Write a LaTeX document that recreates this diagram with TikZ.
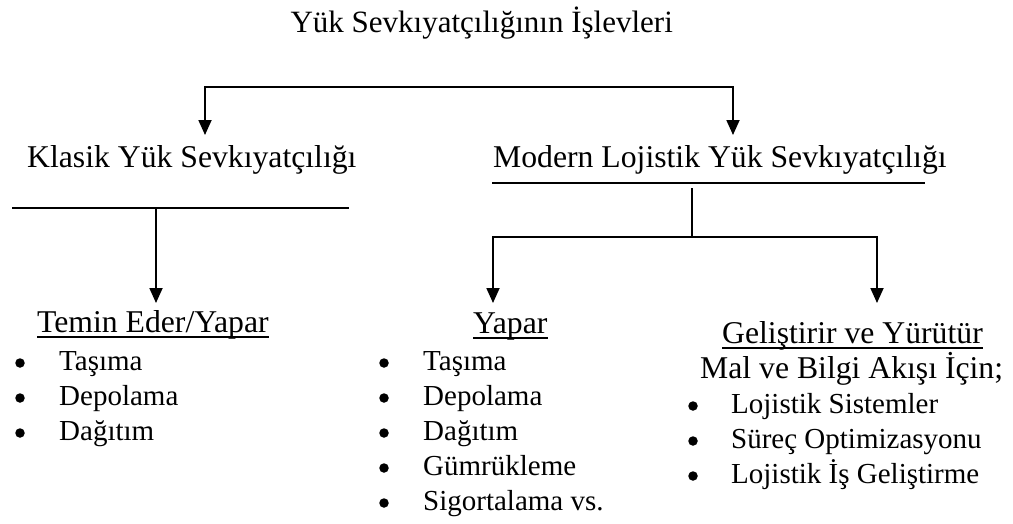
\documentclass[tikz,border=0pt]{standalone}
\usepackage{fontspec}
\setmainfont{Liberation Serif}
\usetikzlibrary{arrows.meta}
\begin{document}
\begin{tikzpicture}[x=1pt,y=-1pt,
  head/.style={inner sep=0pt, anchor=base west, font=\fontsize{31.7}{38}\selectfont},
  item/.style={inner sep=0pt, anchor=base west, font=\fontsize{29}{35}\selectfont},
  dot/.style={circle, fill=black, inner sep=0pt, minimum size=9.5pt},
  ln/.style={line width=1.8pt},
  arr/.style={line width=1.8pt, -{Triangle[width=13pt,length=15pt]}},
  arrs/.style={line width=1.8pt, {Triangle[width=13pt,length=15pt]}-{Triangle[width=13pt,length=15pt]}},
  uline/.style={line width=1.8pt}]
\useasboundingbox (0,0) rectangle (1013,523);

% title
\node[inner sep=0pt, anchor=base, font=\fontsize{31}{37}\selectfont] (title) at (481.7,32) {Yük Sevkıyatçılığının İşlevleri};

% top split
\coordinate (tl) at (205,87);
\coordinate (tr) at (733,87);
\coordinate (ka) at (205,135);
\coordinate (ma) at (733,135);
\draw[arrs] (ka) -- (tl) -- (tr) -- (ma);

% second level headings
\node[head] (klasik) at (27,167) {Klasik Yük Sevkıyatçılığı};
\node[head] (modern) at (493,167) {Modern Lojistik Yük Sevkıyatçılığı};

% classic branch
\coordinate (k1) at (12,208);
\coordinate (k2) at (349,208);
\coordinate (kv) at (156,208);
\coordinate (ta) at (156,303);
\draw[ln] (k1) -- (k2);
\draw[arr] (kv) -- (ta);

% modern branch
\coordinate (m1) at (492,183);
\coordinate (m2) at (925,183);
\coordinate (mv) at (692,188);
\coordinate (mj) at (692,237);
\coordinate (yl) at (493,237);
\coordinate (yr) at (877,237);
\coordinate (ya) at (493,303);
\coordinate (ga) at (877,303);
\draw[ln] (m1) -- (m2);
\draw[ln] (mv) -- (mj);
\draw[arrs] (ya) -- (yl) -- (yr) -- (ga);

% third level headings
\node[head] (temin) at (37,332) {Temin Eder/Yapar};
\node[head] (yapar) at (473,333) {Yapar};
\node[head] (gelis) at (722,343) {Geliştirir ve Yürütür};
\node[head] (mal) at (700,378) {Mal ve Bilgi Akışı İçin;};
\foreach \n in {temin,yapar,gelis}
  \draw[uline] ([yshift=-5pt]\n.base west) -- ([yshift=-5pt]\n.base east);

% lists
\foreach \t [count=\i] in {Taşıma,Depolama,Dağıtım} {
  \node[item] (la\i) at (59,370+35*\i-35) {\t};
  \node[dot] (ba\i) at (20,363+35*\i-35) {};
}
\foreach \t [count=\i] in {Taşıma,Depolama,Dağıtım,Gümrükleme,Sigortalama vs.} {
  \node[item] (lb\i) at (423,370+35*\i-35) {\t};
  \node[dot] (bb\i) at (384,363+35*\i-35) {};
}
\foreach \t [count=\i] in {Lojistik Sistemler,Süreç Optimizasyonu,Lojistik İş Geliştirme} {
  \node[item] (lc\i) at (731,413+35*\i-35) {\t};
  \node[dot] (bc\i) at (693,406+35*\i-35) {};
}
\end{tikzpicture}
\end{document}
